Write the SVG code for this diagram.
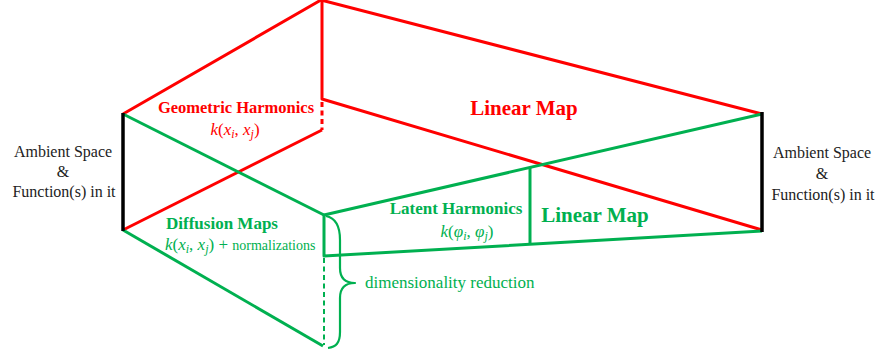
<svg xmlns="http://www.w3.org/2000/svg" width="881" height="356" viewBox="0 0 881 356">
  <style>
    .red { stroke: #ff0000; stroke-width: 3; fill: none; stroke-linejoin: round; }
    .grn { stroke: #00b050; stroke-width: 3; fill: none; stroke-linejoin: round; }
    .blk { stroke: #000000; stroke-width: 3.5; fill: none; }
    .dash { stroke-dasharray: 5 3.5; }
    text { font-family: "Times New Roman", Tinos, "Liberation Serif", "DejaVu Serif", serif; }
    .lbl { font-size: 16px; fill: #222222; text-anchor: middle; }
    .tr { fill: #ff0000; }
    .tg { fill: #00b050; }
    .b { font-weight: bold; }
    .it { font-style: italic; }
  </style>

  <!-- connectors: red upper hull, green lower hull, ambient edges -->
  <g id="connectors">
    <g id="red-hull">
      <polyline class="red" points="123,114 321,0 762,114"/>
      <polyline class="red" points="322,0 322,99 762,230"/>
      <line class="red" x1="123" y1="230" x2="322" y2="130"/>
      <line class="red dash" x1="322" y1="102" x2="322" y2="130"/>
    </g>
    <g id="green-hull">
      <line class="grn" x1="123" y1="114" x2="324" y2="215"/>
      <line class="grn" x1="123" y1="230" x2="323" y2="346"/>
      <polyline class="grn" points="762,114 324,215 324,256 762,231"/>
      <line class="grn" x1="530" y1="168" x2="530" y2="244"/>
      <line class="grn dash" style="stroke-width:2" x1="324" y1="258" x2="324" y2="345"/>
      <path class="grn" style="stroke-width:2.2" d="M326 216 C336 218 340 226 340 240 L340 268 C340 278 345 283 355 283 C345 283 340 288 340 298 L340 332 C340 343 336 347 328 348"/>
    </g>
    <g id="ambient-edges">
      <line class="blk" x1="123" y1="113" x2="123" y2="231"/>
      <line class="blk" x1="762" y1="112" x2="762" y2="232"/>
    </g>
  </g>

  <g id="ambient-left">
    <text class="lbl" x="63" y="157">Ambient Space</text>
    <text class="lbl" x="63" y="177">&amp;</text>
    <text class="lbl" x="64" y="197">Function(s) in it</text>
  </g>

  <g id="ambient-right">
    <text class="lbl" x="822" y="158">Ambient Space</text>
    <text class="lbl" x="822" y="179">&amp;</text>
    <text class="lbl" x="823" y="200">Function(s) in it</text>
  </g>

  <g id="geometric-harmonics">
    <text class="tr b" x="236" y="113" font-size="16.5" text-anchor="middle">Geometric Harmonics</text>
    <text class="tr" x="235" y="135" font-size="17" text-anchor="middle"><tspan class="it">k</tspan>(<tspan class="it">x</tspan><tspan class="it" font-size="12" dy="3">i</tspan><tspan dy="-3">, </tspan><tspan class="it">x</tspan><tspan class="it" font-size="12" dy="3">j</tspan><tspan dy="-3">)</tspan></text>
  </g>

  <g id="linear-map-red">
    <text class="tr b" x="524" y="115" font-size="21" text-anchor="middle">Linear Map</text>
  </g>

  <g id="diffusion-maps">
    <text class="tg b" x="222" y="229" font-size="17" text-anchor="middle">Diffusion Maps</text>
    <text class="tg" x="165" y="250" font-size="17"><tspan class="it">k</tspan>(<tspan class="it">x</tspan><tspan class="it" font-size="12" dy="3">i</tspan><tspan dy="-3">, </tspan><tspan class="it">x</tspan><tspan class="it" font-size="12" dy="3">j</tspan><tspan dy="-3">) + </tspan><tspan font-size="14">normalizations</tspan></text>
  </g>

  <g id="latent-harmonics">
    <text class="tg b" x="456" y="214" font-size="17" text-anchor="middle">Latent Harmonics</text>
    <text class="tg" x="467" y="237" font-size="17" text-anchor="middle"><tspan class="it">k</tspan>(<tspan class="it">φ</tspan><tspan class="it" font-size="12" dy="3">i</tspan><tspan dy="-3">, </tspan><tspan class="it">φ</tspan><tspan class="it" font-size="12" dy="3">j</tspan><tspan dy="-3">)</tspan></text>
  </g>

  <g id="linear-map-green">
    <text class="tg b" x="595" y="222" font-size="21" text-anchor="middle">Linear Map</text>
  </g>

  <g id="dimensionality-reduction">
    <text class="tg" x="365" y="288" font-size="17">dimensionality reduction</text>
  </g>
</svg>
